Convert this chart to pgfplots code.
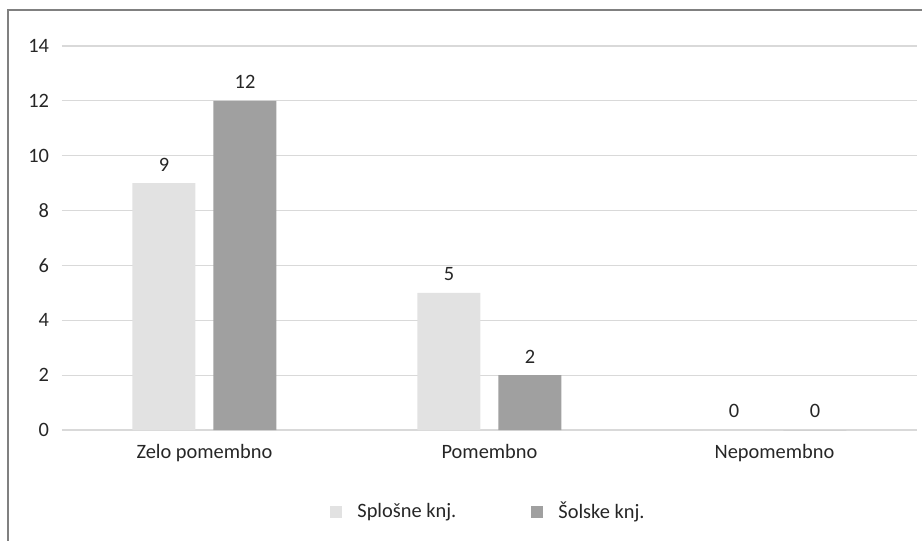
\documentclass[border=0pt]{standalone}
\usepackage{fontspec}
\setmainfont{Carlito}
\usepackage{pgfplots}
\pgfplotsset{compat=1.18}
\definecolor{splosne}{HTML}{E2E2E2}
\definecolor{solske}{HTML}{A0A0A0}
\definecolor{gridc}{HTML}{D9D9D9}
\definecolor{framec}{HTML}{808080}
\definecolor{txt}{HTML}{262626}
\begin{document}
\begin{tikzpicture}
\useasboundingbox (0pt,0pt) rectangle (461pt,270.5pt);
\draw[framec, line width=0.8pt] (4pt,0pt) -- (4pt,265.5pt) -- (461pt,265.5pt);
\begin{axis}[
  at={(31pt,55.5pt)}, anchor=south west,
  scale only axis, width=427.5pt, height=192pt,
  ybar=9pt, bar width=31.5pt,
  xmin=-0.5, xmax=2.5, ymin=0, ymax=14,
  xtick={0,1,2},
  xticklabels={Zelo pomembno, Pomembno, Nepomembno},
  ytick={0,2,...,14},
  axis line style={draw=none},
  tick style={draw=none},
  ymajorgrids, grid style={gridc, line width=0.6pt},
  font=\fontsize{10.2}{12}\selectfont,
  /pgf/number format/assume math mode=true,
  tick label style={text=txt},
  yticklabel style={xshift=-3pt},
  xticklabel style={yshift=0.5pt},
  nodes near coords,
  nodes near coords style={text=txt, font=\fontsize{10.2}{12}\selectfont, yshift=2.5pt},
  legend columns=2,
  legend style={at={(0.5,-0.2135)}, anchor=center, draw=none, fill=none,
    font=\fontsize{10.2}{12}\selectfont, text=txt,
    /tikz/every odd column/.append style={column sep=5.5pt},
    /tikz/every even column/.append style={column sep=35.5pt}},
  legend image code/.code={\fill[#1] (0pt,-3pt) rectangle (6pt,3pt);},
]
\addplot[fill=splosne, draw=none] coordinates {(0,9) (1,5) (2,0)};
\addplot[fill=solske, draw=none] coordinates {(0,12) (1,2) (2,0)};
\legend{Splošne knj., Šolske knj.}
\end{axis}
\end{tikzpicture}
\end{document}
